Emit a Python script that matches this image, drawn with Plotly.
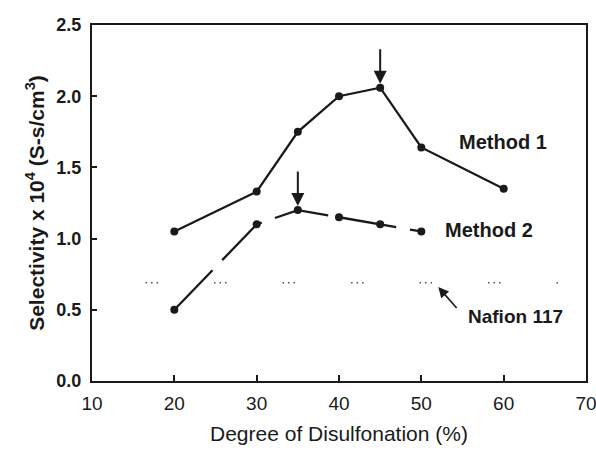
import plotly.graph_objects as go

# Selectivity vs. degree of disulfonation
m1_x = [20, 30, 35, 40, 45, 50, 60]
m1_y = [1.05, 1.33, 1.75, 2.0, 2.06, 1.64, 1.35]
m2_x = [20, 30, 35, 40, 45, 50]
m2_y = [0.50, 1.10, 1.20, 1.15, 1.10, 1.05]
nafion_x = [16.5, 67]
nafion_y = [0.69, 0.69]

x_ticks = [10, 20, 30, 40, 50, 60, 70]
y_ticks = [0.0, 0.5, 1.0, 1.5, 2.0, 2.5]

FONT = "Liberation Sans, Arial, sans-serif"
INK = "#1a1a1a"

fig = go.Figure()

# Nafion 117 reference level: sparse groups of dots
fig.add_trace(go.Scatter(
    x=nafion_x, y=nafion_y, mode="lines",
    line=dict(color="#555555", width=1.5,
              dash="1.5px,4px,1.5px,4px,1.5px,56px"),
    hoverinfo="skip", showlegend=False))

fig.add_trace(go.Scatter(
    x=m1_x, y=m1_y, mode="lines+markers",
    line=dict(color=INK, width=2.3),
    marker=dict(color=INK, size=8),
    showlegend=False))

fig.add_trace(go.Scatter(
    x=m2_x, y=m2_y, mode="lines+markers",
    line=dict(color=INK, width=2.3, dash="55px,14px"),
    marker=dict(color=INK, size=8),
    showlegend=False))

# Downward arrows marking the maxima
for x, y in [(45, 2.06), (35, 1.20)]:
    fig.add_annotation(x=x, y=y, ax=0, ay=-40, xref="x", yref="y",
                       showarrow=True, text="", arrowhead=2, arrowsize=1.3,
                       arrowwidth=2, arrowcolor=INK, standoff=4)

fig.add_annotation(x=51.9, y=0.67, ax=21, ay=24, xref="x", yref="y",
                   showarrow=True, text="", arrowhead=2, arrowsize=1.3,
                   arrowwidth=1.6, arrowcolor=INK, standoff=2)

labels = [
    ("Method 1", 59.9, 1.68, 20),
    ("Method 2", 58.2, 1.06, 20),
    ("Nafion 117", 61.4, 0.45, 19),
]
for txt, x, y, size in labels:
    fig.add_annotation(x=x, y=y, xref="x", yref="y", text=f"<b>{txt}</b>",
                       showarrow=False, font=dict(family=FONT, size=size, color=INK))

fig.update_layout(
    width=596, height=454,
    margin=dict(l=92, r=10, t=25, b=73, autoexpand=False),
    paper_bgcolor="white", plot_bgcolor="white",
    font=dict(family=FONT, color=INK),
)

fig.update_xaxes(
    range=[10, 70], tickvals=x_ticks, ticktext=[str(v) for v in x_ticks],
    ticks="inside", ticklen=6, tickwidth=2, tickcolor=INK,
    showline=True, linewidth=2, linecolor=INK, mirror=True,
    showgrid=False, zeroline=False, automargin=False,
    ticklabeloverflow="allow", ticklabelstandoff=4,
    tickfont=dict(family=FONT, size=19),
    title=dict(text="Degree of Disulfonation (%)",
               font=dict(family=FONT, size=21), standoff=14),
)
fig.update_yaxes(
    range=[0, 2.5], tickvals=y_ticks, ticktext=[f"<b>{v:.1f}</b>" for v in y_ticks],
    ticks="inside", ticklen=5, tickwidth=2, tickcolor=INK,
    showline=True, linewidth=2, linecolor=INK, mirror=True,
    showgrid=False, zeroline=False, automargin=False,
    ticklabeloverflow="allow", ticklabelstandoff=5,
    tickfont=dict(family=FONT, size=18),
    title=dict(text="<b>Selectivity x 10<sup>4</sup> (S-s/cm<sup>3</sup>)</b>",
               font=dict(family=FONT, size=21), standoff=6),
)

fig.write_html("out.html")
